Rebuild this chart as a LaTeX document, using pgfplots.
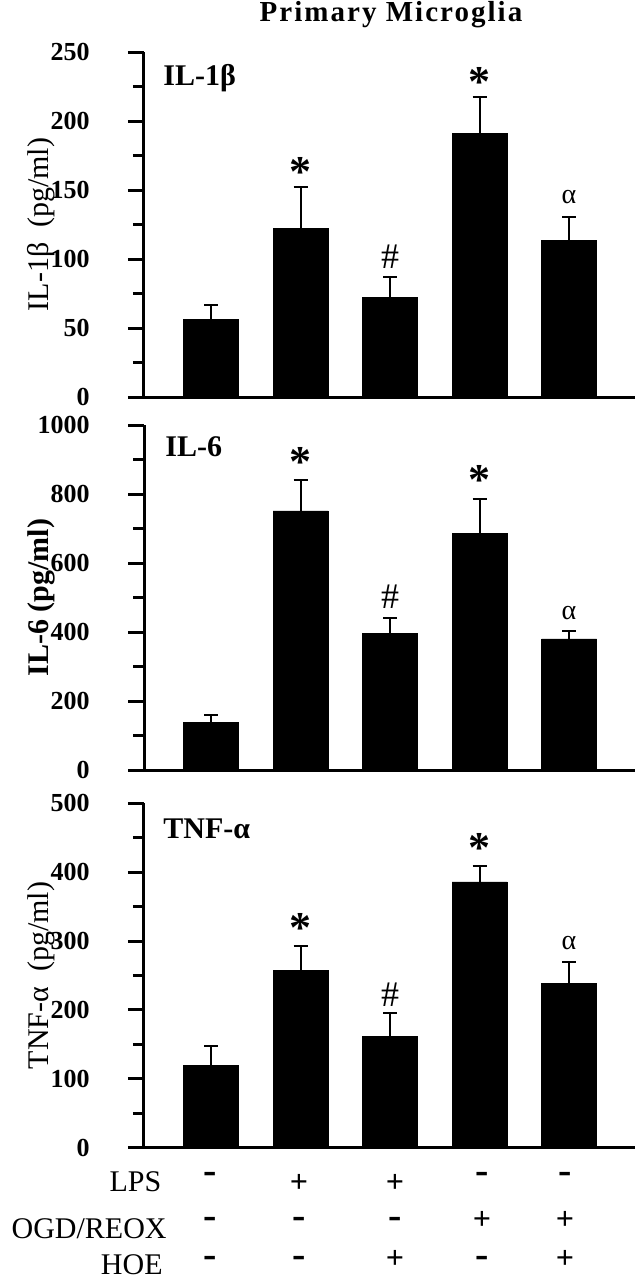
\documentclass[border=0pt]{standalone}
\usepackage{pgfplots}
\pgfplotsset{compat=1.18}
\usepackage{fontspec}
\setmainfont{Liberation Serif}

\pgfplotstableread{
x y e
1 56.5 10.2
2 122 30
3 72.2 14.5
4 190.8 26.8
5 113.3 17.1
}\dataA
\pgfplotstableread{
x y e
1 137 22
2 751 89
3 396 44
4 686 100
5 380 22
}\dataB
\pgfplotstableread{
x y e
1 119.6 28.1
2 257.6 35.4
3 161 35
4 385.8 22.8
5 238.7 30.3
}\dataC

\pgfplotsset{
  panel/.style={
    scale only axis,
    width=245.5pt,
    xmin=0.251, xmax=5.737,
    ymin=0,
    axis x line*=bottom,
    axis y line*=left,
    axis line style={line width=1.5pt, black},
    xtick=\empty,
    tick align=outside,
    major tick length=8pt,
    minor tick length=5.5pt,
    every tick/.style={line width=1.5pt, black},
    minor y tick num=1,
    /pgf/number format/assume math mode=true,
    /pgf/number format/1000 sep={},
    yticklabel style={font=\fontsize{13}{13}\selectfont\bfseries, anchor=east, inner sep=0pt, xshift=-19pt},
    ylabel style={at={(axis description cs:-0.2098,0.5)}, anchor=center, font=\fontsize{15}{15}\selectfont},
    clip=false,
  },
  bars/.style={
    ybar, bar width=27.5pt, fill=black, draw=black, bar shift=0pt,
    error bars/.cd, y dir=plus, y explicit,
    error bar style={line width=1pt, black},
    error mark options={rotate=90, mark size=3.5pt, line width=1pt, black},
  },
}
\tikzset{
  annstar/.style={inner sep=0pt, font=\fontsize{22}{22}\selectfont\bfseries},
  annhash/.style={inner sep=0pt, font=\fontsize{18}{18}\selectfont},
  annalph/.style={inner sep=0pt, font=\fontsize{14}{14}\selectfont},
  mn/.style={inner sep=0pt, font=\fontsize{20}{20}\selectfont\bfseries},
  pl/.style={inner sep=0pt, font=\fontsize{16}{16}\selectfont\bfseries},
}

\begin{document}
\begin{tikzpicture}
\path[use as bounding box] (0,0) rectangle (320pt,-640pt);

% title
\node[anchor=base, inner sep=0pt, font=\fontsize{14.5}{14.5}\selectfont\bfseries\addfontfeature{LetterSpace=7}] at (195.5pt,-10.8pt) {Primary Microglia};

% Panel 1
\begin{axis}[panel, at={(72pt,-198.5pt)}, anchor=south west, height=172.5pt,
  ymax=250, ytick={0,50,...,250}, ylabel={IL-1β\ \ (pg/ml)}]
\addplot[bars] table[x=x, y=y, y error=e] {\dataA};
\draw[line width=1.5pt] (axis cs:0.106,0) -- (axis cs:0.251,0);
\node[annstar] at (axis cs:2,163) {*};
\node[annstar] at (axis cs:4,228) {*};
\node[annhash] at (axis cs:3,101.4) {\#};
\node[annalph] at (axis cs:5,145) {α};
\end{axis}
\node[anchor=base west, inner sep=0pt, font=\fontsize{15}{15}\selectfont\bfseries] at (81.5pt,-42.5pt) {IL-1β};

% Panel 2
\begin{axis}[panel, at={(72pt,-385pt)}, anchor=south west, height=172.5pt,
  ymax=1000, ytick={0,200,...,1000}, ylabel={\bfseries IL-6 (pg/ml)}]
\addplot[bars] table[x=x, y=y, y error=e] {\dataB};
\draw[line width=1.5pt] (axis cs:0.106,0) -- (axis cs:0.251,0);
\node[annstar] at (axis cs:2,893.6) {*};
\node[annstar] at (axis cs:4,840.6) {*};
\node[annhash] at (axis cs:3,502) {\#};
\node[annalph] at (axis cs:5,454) {α};
\end{axis}
\node[anchor=base west, inner sep=0pt, font=\fontsize{15}{15}\selectfont\bfseries] at (82.5pt,-228.3pt) {IL-6};

% Panel 3
\begin{axis}[panel, at={(72pt,-573.85pt)}, anchor=south west, height=172.2pt,
  ymax=500, ytick={0,100,...,500}, ylabel={TNF-α\ \ (pg/ml)}]
\addplot[bars] table[x=x, y=y, y error=e] {\dataC};
\draw[line width=1.5pt] (axis cs:0.106,0) -- (axis cs:0.251,0);
\node[annstar] at (axis cs:2,318.6) {*};
\node[annstar] at (axis cs:4,434.7) {*};
\node[annhash] at (axis cs:3,221.7) {\#};
\node[annalph] at (axis cs:5,296.8) {α};
\end{axis}
\node[anchor=base west, inner sep=0pt, font=\fontsize{15}{15}\selectfont\bfseries] at (81.5pt,-419.2pt) {TNF-α};

% treatment rows
\begin{scope}[every node/.style={inner sep=0pt, font=\fontsize{15}{15}\selectfont}]
\node[anchor=base east] at (80.8pt,-595.8pt) {LPS};
\node[anchor=base east] at (83.5pt,-619.2pt) {OGD/REOX};
\node[anchor=base east] at (81.5pt,-637.3pt) {HOE};
\end{scope}
% LPS: - + + - -
\node[mn] at (105pt,-589pt) {-};
\node[pl] at (149.5pt,-591.5pt) {+};
\node[pl] at (197.5pt,-591.5pt) {+};
\node[mn] at (241pt,-589pt) {-};
\node[mn] at (282.5pt,-589pt) {-};
% OGD/REOX: - - - + +
\node[mn] at (105pt,-611.3pt) {-};
\node[mn] at (149.5pt,-611.3pt) {-};
\node[mn] at (197.5pt,-611.3pt) {-};
\node[pl] at (241pt,-610pt) {+};
\node[pl] at (282.5pt,-610pt) {+};
% HOE: - - + - +
\node[mn] at (105pt,-630.8pt) {-};
\node[mn] at (149.5pt,-630.8pt) {-};
\node[pl] at (197.5pt,-629.5pt) {+};
\node[mn] at (241pt,-630.8pt) {-};
\node[pl] at (282.5pt,-629.5pt) {+};
\end{tikzpicture}
\end{document}
